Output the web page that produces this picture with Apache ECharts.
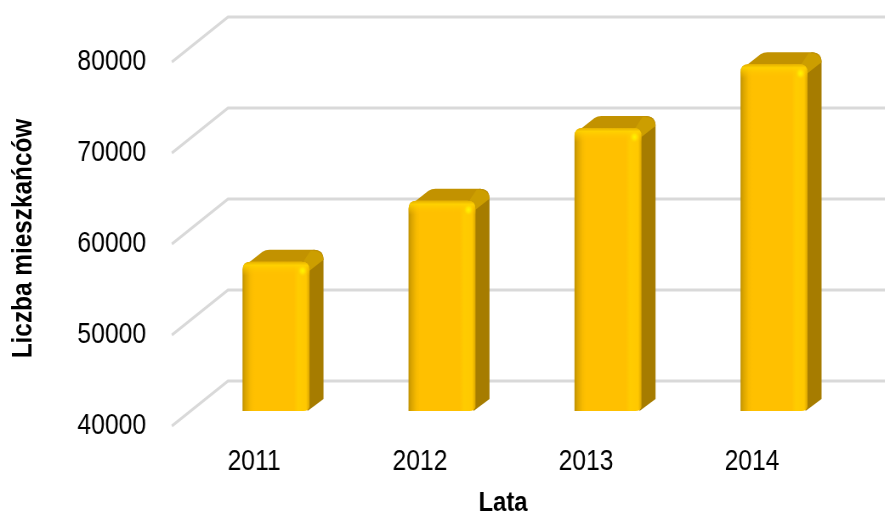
<!DOCTYPE html>
<html><head><meta charset="utf-8">
<style>html,body{margin:0;padding:0;background:#fff;overflow:hidden;width:885px;height:514px}
#c{width:1041px;height:514px;transform:scaleX(0.85);transform-origin:0 0}</style>
<script src="https://cdn.jsdelivr.net/npm/echarts@6/dist/echarts.min.js"></script>
</head><body><div id="c"></div>
<script>
const categories = ['2011','2012','2013','2014'];
const residents = [56400, 63100, 71100, 78100];
const yTicks = [40000, 50000, 60000, 70000, 80000];
const yTitle = 'Liczba mieszkańców';
const xTitle = 'Lata';
const FONT = '"Liberation Sans",Arial,sans-serif';

const S = 0.85;                        // page is condensed horizontally, like the reference
const X = v => v / S;
const wallDX = X(57), wallDY = -45;    // wall recess
const barDX = X(22), barDY = -15;      // bar plane recess
const depthDX = X(14), depthDY = -12;  // bar depth
const halfW = X(33.5);

function gradH(stops){return {type:'linear',x:0,y:0,x2:1,y2:0,colorStops:stops.map(s=>({offset:s[0],color:s[1]}))};}
function gradV(stops){return {type:'linear',x:0,y:0,x2:0,y2:1,colorStops:stops.map(s=>({offset:s[0],color:s[1]}))};}

function renderWall(params, api){
  const p = api.coord([0, api.value(0)]);
  const cs = params.coordSys;
  const y = p[1], x = cs.x;
  return {type:'polyline', silent:true,
    shape:{points:[[x+1,y],[x+wallDX,y+wallDY],[X(885),y+wallDY]]},
    style:{stroke:'#D9D9D9',lineWidth:2.8,fill:null}};
}

function renderBar(params, api){
  const top = api.coord([api.value(0), api.value(1)]);
  const base = api.coord([api.value(0), 40000]);
  const cx = top[0]+barDX, y = top[1]+barDY, yb = base[1]+barDY;
  const x0 = cx-halfW, x1 = cx+halfW;
  const xr = x1+depthDX, yt = y+depthDY;
  const r = 8, rx = X(8);
  const side = `M${x1-X(3)} ${y} L${xr-X(10)} ${yt} Q${xr} ${yt} ${xr} ${yt+10} L${xr} ${yb+depthDY} L${x1-X(2)} ${yb} Z`;
  const topFace = `M${x0+X(1)} ${y+5} L${x0+X(20)} ${yt+2} Q${x0+X(23)} ${yt} ${x0+X(27)} ${yt} L${xr-X(10)} ${yt} Q${xr} ${yt} ${xr} ${yt+10} L${x1} ${y+6} L${x1-X(4)} ${y+4} Z`;
  const corner = `M${x1-X(7)} ${y+1} L${xr-X(13)} ${yt+1} Q${xr-X(1)} ${yt} ${xr} ${yt+10} L${x1} ${y+9} Q${x1} ${y+2} ${x1-X(7)} ${y+1} Z`;
  const front = `M${x0} ${yb} L${x0} ${y+r} Q${x0} ${y} ${x0+rx} ${y} L${x1-rx} ${y} Q${x1} ${y} ${x1} ${y+r} L${x1} ${yb-4} Q${x1-X(1)} ${yb} ${x1-X(6)} ${yb} Z`;
  const band = `M${x0} ${y+14} L${x0} ${y+r} Q${x0} ${y} ${x0+rx} ${y} L${x1-rx} ${y} Q${x1} ${y} ${x1} ${y+r} L${x1} ${y+14} Z`;
  return {type:'group', silent:true, children:[
    {type:'path', shape:{pathData:side}, style:{fill:'#A67C00'}},
    {type:'path', shape:{pathData:topFace}, style:{fill:'#C29200'}},
    {type:'path', shape:{pathData:corner}, style:{fill:'#CC9E00'}},
    {type:'path', shape:{pathData:front},
      style:{fill:gradH([[0,'#BE9000'],[0.04,'#D9A400'],[0.12,'#F8BB00'],[0.17,'#FFC000'],[0.76,'#FFC000'],[0.83,'#FFCC00'],[0.95,'#FFC800'],[1,'#DCA600']])}},
    {type:'path', shape:{pathData:band},
      style:{fill:gradV([[0,'rgba(226,174,0,0.9)'],[0.25,'rgba(255,212,0,0.85)'],[0.5,'rgba(255,204,0,0.6)'],[1,'rgba(255,192,0,0)']])}},
    {type:'ellipse', shape:{cx:x1-X(7), cy:y+9, rx:X(6), ry:6},
      style:{fill:{type:'radial',x:0.5,y:0.5,r:0.5,colorStops:[{offset:0,color:'#FFF500'},{offset:0.45,color:'rgba(255,232,0,0.8)'},{offset:1,color:'rgba(255,210,0,0)'}]}}}
  ]};
}

const chart = echarts.init(document.getElementById('c'), null, {renderer:'canvas'});
chart.setOption({
  animation:false,
  backgroundColor:'#fff',
  grid:{left:X(171),top:62,width:X(664),height:364,outerBoundsMode:'none'},
  xAxis:{type:'category',data:categories,
    axisLine:{show:false},axisTick:{show:false},
    axisLabel:{color:'#000',fontFamily:FONT,fontSize:29,margin:21},
    name:xTitle,nameLocation:'middle',nameGap:63,
    nameTextStyle:{color:'#000',fontFamily:FONT,fontSize:28,fontWeight:'bold'}},
  yAxis:{type:'value',min:40000,max:80000,interval:10000,
    axisLine:{show:false},axisTick:{show:false},splitLine:{show:false},
    axisLabel:{color:'#000',fontFamily:FONT,fontSize:29,margin:X(25),padding:[0,0,4,0],formatter:v=>String(v)}},
  graphic:[{type:'text',x:X(24),y:238.5,rotation:Math.PI/2,scaleX:0.87,scaleY:1/S,silent:true,
    style:{text:yTitle,fill:'#000',font:'bold 28px '+FONT,textAlign:'center',textVerticalAlign:'middle'}}],
  series:[
    {type:'custom',name:'wall',coordinateSystem:'cartesian2d',clip:false,z:1,
     data:yTicks.map(v=>[v]),encode:{y:0},renderItem:renderWall},
    {type:'custom',name:yTitle,coordinateSystem:'cartesian2d',clip:false,z:2,
     data:categories.map((c,i)=>[i,residents[i]]),encode:{x:0,y:1},renderItem:renderBar}
  ]
});
</script></body></html>
